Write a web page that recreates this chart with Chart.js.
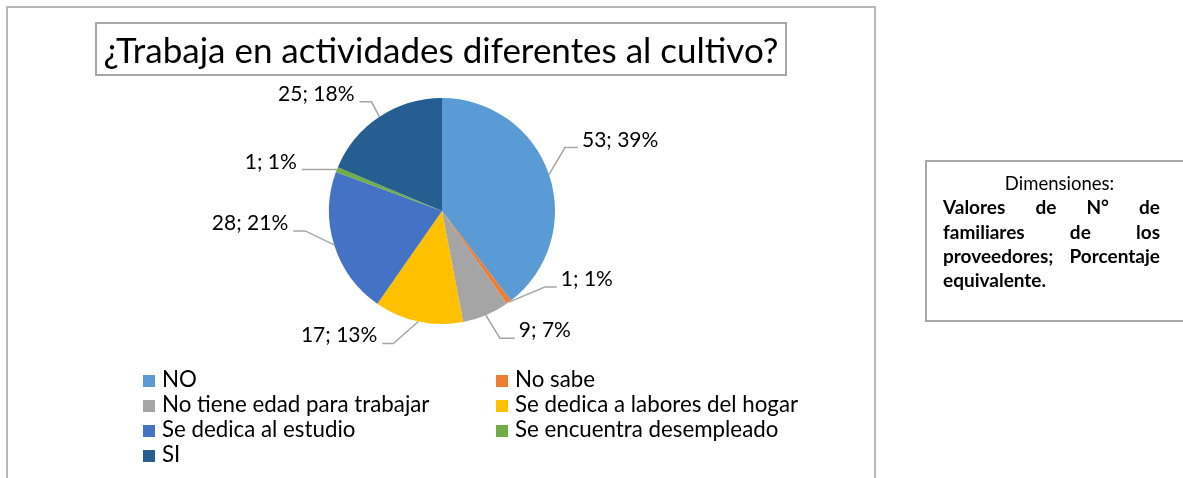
<!DOCTYPE html>
<html lang="es">
<head>
<meta charset="UTF-8">
<title>¿Trabaja en actividades diferentes al cultivo?</title>
<script src="https://cdn.jsdelivr.net/npm/chart.js"></script>
<style>
  body { margin: 0; width: 1183px; height: 478px; overflow: hidden; position: relative; background: #fff; font-family: Lato, sans-serif; }
  #frame { position: absolute; left: 6px; top: 6px; width: 866px; height: 520px; border: 2px solid #b8b8b8; }
  #title { position: absolute; left: 95px; top: 22px; width: 688px; height: 50px; border: 2px solid #a6a6a6;
           font-size: 35px; line-height: 50px; text-align: center; color: #000; white-space: nowrap; }
  #note { position: absolute; left: 925px; top: 160px; width: 300px; height: 158px; border: 2px solid #a6a6a6; }
  #noteText { position: absolute; left: 943px; top: 171px; width: 217px; font-size: 19px; line-height: 24.3px; color: #000; }
  #noteText .head { text-align: center; padding-left: 16px; font-size: 18.5px; }
  #noteText .line { font-weight: bold; text-align: justify; text-align-last: justify; white-space: nowrap; }
  #noteText .last { font-weight: bold; text-align: left; }
  canvas { position: absolute; left: 0; top: 0; }
</style>
</head>
<body>
<div id="frame"></div>
<canvas id="pieChart" width="1183" height="478"></canvas>
<div id="title">¿Trabaja en actividades diferentes al cultivo?</div>
<div id="note"></div>
<div id="noteText">
  <div class="head">Dimensiones:</div>
  <div class="line">Valores de N° de</div>
  <div class="line">familiares de los</div>
  <div class="line">proveedores; Porcentaje</div>
  <div class="last">equivalente.</div>
</div>

<script>
  const categories = ["NO", "No sabe", "No tiene edad para trabajar", "Se dedica a labores del hogar",
                      "Se dedica al estudio", "Se encuentra desempleado", "SI"];
  const counts = [53, 1, 9, 17, 28, 1, 25];
  const percents = [39, 1, 7, 13, 21, 1, 18];
  const colors = ["#5B9BD5", "#ED7D31", "#A5A5A5", "#FFC000", "#4472C4", "#70AD47", "#255E91"];

  // leader line: elbow offset from slice edge [dx, dy], then horizontal run
  const leaders = [[16, -27, 13], [36, -15, 12], [14, 23, 15], [-25, 22, -11],
                   [-29, -14, -12], [-35, 0, 0], [-8, -15, -12]];

  const leaderLabels = {
    id: "leaderLabels",
    afterDatasetsDraw(chart) {
      const ctx = chart.ctx;
      const meta = chart.getDatasetMeta(0);
      ctx.save();
      ctx.font = "21px Lato, sans-serif";
      ctx.fillStyle = "#000";
      ctx.strokeStyle = "#a6a6a6";
      ctx.lineWidth = 1.5;
      ctx.textBaseline = "alphabetic";
      meta.data.forEach((arc, i) => {
        const p = arc.getProps(["x", "y", "startAngle", "endAngle", "outerRadius"], true);
        const mid = (p.startAngle + p.endAngle) / 2;
        const ax = p.x + Math.cos(mid) * p.outerRadius;
        const ay = p.y + Math.sin(mid) * p.outerRadius;
        const [dx, dy, run] = leaders[i];
        const ex = ax + dx, ey = ay + dy;
        const tx = ex + run;
        ctx.beginPath();
        ctx.moveTo(ax, ay);
        ctx.lineTo(ex, ey);
        ctx.lineTo(tx, ey);
        ctx.stroke();
        const right = (run !== 0 ? run : dx) > 0;
        ctx.textAlign = right ? "left" : "right";
        ctx.fillText(counts[i] + "; " + percents[i] + "%", tx + (right ? 4 : -5), ey - 1);
      });
      ctx.restore();
    }
  };

  const gridLegend = {
    id: "gridLegend",
    afterDraw(chart) {
      const ctx = chart.ctx;
      const cols = [143, 496];
      ctx.save();
      ctx.font = "22.3px Lato, sans-serif";
      ctx.textAlign = "left";
      ctx.textBaseline = "alphabetic";
      chart.data.labels.forEach((label, i) => {
        const x = cols[i % 2];
        const base = 387 + Math.floor(i / 2) * 25;
        ctx.fillStyle = chart.data.datasets[0].backgroundColor[i];
        ctx.fillRect(x, base - 12, 12, 12);
        ctx.fillStyle = "#000";
        ctx.fillText(label, x + 19, base);
      });
      ctx.restore();
    }
  };

  new Chart(document.getElementById("pieChart"), {
    type: "pie",
    data: {
      labels: categories,
      datasets: [{
        data: counts,
        backgroundColor: colors,
        borderWidth: 0,
        hoverOffset: 0
      }]
    },
    options: {
      responsive: false,
      animation: false,
      events: [],
      layout: { padding: { left: 329, right: 628, top: 98, bottom: 154 } },
      plugins: {
        legend: { display: false },
        title: { display: false },
        tooltip: { enabled: false }
      }
    },
    plugins: [leaderLabels, gridLegend]
  });
</script>
</body>
</html>
